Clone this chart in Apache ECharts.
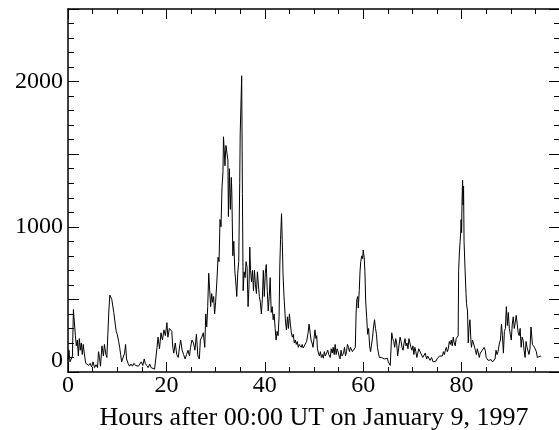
<!DOCTYPE html>
<html>
<head>
<meta charset="utf-8">
<script src="https://cdn.jsdelivr.net/npm/echarts@6/dist/echarts.min.js"></script>
<style>
html,body{margin:0;padding:0;background:#fff;}
#chart{width:559px;height:430px;}
</style>
</head>
<body>
<div id="chart"></div>
<script>
// Hours after 00:00 UT on January 9, 1997
const hours = [
0.0,0.2,0.4,0.7,0.9,1.1,1.3,1.5,1.7,1.9,2.1,2.3,2.5,2.7,2.9,3.1,3.3,3.6,3.9,4.2,4.5,4.8,5.1,5.4,5.7,6.0,6.2,6.4,6.6,6.9,7.2,7.4,7.7,7.9,
8.1,8.3,8.5,8.7,8.9,9.1,9.3,9.6,9.8,10.0,10.3,10.5,10.7,10.9,11.1,11.3,11.5,11.7,11.9,12.2,12.5,12.8,13.1,13.4,13.7,14.0,14.3,14.6,14.9,
15.2,15.5,15.7,16.0,16.3,16.6,16.9,17.2,17.6,17.9,18.1,18.3,18.6,18.9,19.2,19.5,19.8,20.1,20.3,20.6,20.8,21.1,21.3,21.5,21.8,22.1,22.4,
22.7,22.9,23.2,23.5,23.8,24.1,24.4,24.7,24.9,25.2,25.5,25.8,26.1,26.4,26.7,26.9,27.2,27.5,27.8,28.0,28.2,28.4,28.6,28.8,29.0,29.2,29.4,
29.6,29.8,30.0,30.25,30.5,30.7,30.9,31.1,31.3,31.5,31.6,31.8,31.9,32.1,32.3,32.5,32.6,32.8,33.0,33.2,33.3,33.5,33.7,33.9,34.1,34.3,34.5,
34.7,34.9,35.0,35.2,35.3,35.45,35.6,35.8,36.0,36.2,36.4,36.6,36.8,36.95,37.1,37.3,37.5,37.7,37.9,38.1,38.3,38.5,38.7,38.9,39.1,39.3,39.5,
39.7,39.9,40.1,40.3,40.5,40.7,40.9,41.1,41.3,41.5,41.7,41.9,42.1,42.3,42.5,42.7,42.9,43.05,43.2,43.4,43.55,43.7,43.9,44.05,44.2,44.4,44.6,
44.8,45.0,45.2,45.4,45.6,45.8,46.0,46.2,46.4,46.6,46.8,47.0,47.2,47.4,47.6,47.8,48.0,48.2,48.5,48.8,49.0,49.2,49.4,49.6,49.8,50.0,50.2,
50.4,50.55,50.7,50.9,51.1,51.3,51.5,51.7,51.9,52.1,52.3,52.6,52.8,53.0,53.3,53.5,53.7,53.9,54.1,54.3,54.5,54.7,54.9,55.1,55.3,55.5,55.7,
56.0,56.2,56.4,56.6,56.8,57.0,57.2,57.4,57.6,57.8,58.0,58.2,58.4,58.55,58.7,58.9,59.0,59.2,59.35,59.5,59.7,59.9,60.0,60.2,60.35,60.5,60.7,
60.9,61.1,61.3,61.5,61.7,61.9,62.1,62.3,62.5,62.7,62.9,63.1,63.3,63.5,63.75,64.0,64.3,64.6,64.9,65.1,65.3,65.5,65.8,66.0,66.2,66.4,66.6,
66.8,67.0,67.2,67.5,67.7,67.9,68.1,68.3,68.5,68.7,68.9,69.1,69.3,69.5,69.7,69.9,70.1,70.3,70.5,70.7,70.9,71.1,71.3,71.5,71.7,71.9,72.1,
72.3,72.6,72.9,73.1,73.4,73.6,73.9,74.2,74.5,74.8,75.0,75.3,75.5,75.7,75.9,76.1,76.3,76.5,76.7,76.9,77.1,77.3,77.5,77.7,77.9,78.1,78.3,
78.5,78.7,78.9,79.1,79.3,79.4,79.55,79.7,79.8,79.9,80.0,80.1,80.2,80.3,80.4,80.5,80.7,80.9,81.0,81.2,81.35,81.5,81.7,81.9,82.0,82.2,82.4,
82.6,82.8,83.0,83.2,83.4,83.6,83.8,84.0,84.2,84.4,84.6,84.8,85.0,85.2,85.4,85.6,85.8,86.0,86.3,86.5,86.8,87.0,87.2,87.4,87.7,87.9,88.1,
88.3,88.5,88.7,88.9,89.1,89.3,89.5,89.7,89.9,90.1,90.3,90.5,90.7,90.9,91.1,91.3,91.5,91.7,91.9,92.1,92.3,92.5,92.7,92.9,93.1,93.3,93.5,
93.7,93.9,94.1,94.2,94.4,94.6,94.8,95.0,95.2,95.4,95.6,95.8,96.0,96.2
];
const values = [
80,150,70,60,110,430,420,250,180,220,110,230,150,200,120,190,130,60,70,45,60,35,70,30,50,30,140,100,40,180,110,190,120,100,
260,420,530,520,500,490,410,330,280,260,210,170,120,70,60,110,130,190,90,60,40,55,40,60,45,55,40,50,70,
45,90,60,45,30,55,30,25,20,30,170,240,160,270,220,290,250,340,240,300,310,280,170,130,200,120,100,
180,220,150,120,90,120,150,110,170,220,200,150,260,110,90,220,240,270,170,400,310,450,680,560,450,540,480,
520,400,480,620,790,760,1050,1000,1270,1380,1620,1500,1420,1560,1550,1460,1070,1400,1120,1340,1230,800,900,700,620,520,680,
760,1300,1640,1650,2040,1230,560,690,650,760,720,450,600,860,700,620,700,560,700,600,540,690,600,520,480,400,500,
700,520,680,740,560,420,520,650,410,450,360,400,300,220,280,250,380,730,910,1090,900,680,520,440,350,290,380,
300,400,330,270,240,260,200,220,190,210,170,190,180,170,190,165,160,175,210,270,330,320,220,200,170,230,290,
230,250,160,130,110,140,100,120,95,140,110,100,150,120,100,160,130,170,120,190,120,160,140,110,90,150,110,
130,170,110,140,190,170,140,170,180,140,150,140,170,400,500,520,440,560,690,760,800,780,840,790,690,490,380,
260,300,180,140,130,240,310,360,300,260,170,130,100,110,100,110,90,80,95,70,60,45,270,230,210,170,230,
200,110,100,240,210,170,150,200,230,180,200,160,230,200,170,150,180,120,170,140,100,130,160,170,130,140,100,
110,130,90,110,100,80,100,70,60,75,90,80,110,100,120,110,140,120,150,170,140,160,210,190,220,180,240,
200,180,230,220,250,700,820,900,950,1050,960,1200,1320,1150,1280,900,710,540,470,420,200,300,360,210,170,220,200,
190,150,120,160,150,100,130,120,150,140,170,150,100,110,80,90,75,85,70,80,90,150,120,140,200,220,330,
250,130,280,300,450,320,410,300,260,220,330,380,300,340,390,330,270,250,300,170,240,220,150,100,210,170,160,
120,160,310,320,190,200,170,160,140,100,90,100,110,105
];
const xTicks = [0, 20, 40, 60, 80];
const yLabelValues = [0, 1000, 2000];
const xTitle = 'Hours after 00:00 UT on January 9, 1997';

const FONT = '"Liberation Serif", "Times New Roman", serif';
const chart = echarts.init(document.getElementById('chart'), null, {renderer: 'canvas'});
const axisLineStyle = {color: '#000', width: 1.5};
const commonX = {
  type: 'value', min: 0, max: 100, interval: 20,
  axisLine: {show: true, onZero: false, lineStyle: axisLineStyle},
  axisTick: {show: true, inside: true, length: 10, lineStyle: {color: '#000', width: 1}},
  minorTick: {show: true, splitNumber: 4, length: 5, lineStyle: {color: '#000', width: 1}},
  splitLine: {show: false}, minorSplitLine: {show: false}
};
const commonY = {
  type: 'value', min: 0, max: 2500, interval: 500,
  axisLine: {show: true, onZero: false, lineStyle: axisLineStyle},
  axisTick: {show: true, inside: true, length: 11, lineStyle: {color: '#000', width: 1}},
  minorTick: {show: true, splitNumber: 5, length: 6, lineStyle: {color: '#000', width: 1}},
  splitLine: {show: false}, minorSplitLine: {show: false}
};
chart.setOption({
  animation: false,
  backgroundColor: '#fff',
  grid: {left: 68, top: 9, width: 492, height: 363, containLabel: false, outerBoundsMode: 'none'},
  xAxis: [
    Object.assign({}, commonX, {
      position: 'bottom',
      axisLabel: {
        show: true, color: '#000', fontFamily: FONT, fontSize: 24, margin: 2,
        formatter: v => xTicks.indexOf(v) >= 0 ? String(v) : ''
      },
      name: xTitle, nameLocation: 'middle', nameGap: 33,
      nameTextStyle: {color: '#000', fontFamily: FONT, fontSize: 26}
    }),
    Object.assign({}, commonX, {position: 'top', axisLabel: {show: false}})
  ],
  yAxis: [
    Object.assign({}, commonY, {
      position: 'left',
      axisLabel: {
        show: true, color: '#000', fontFamily: FONT, fontSize: 24, margin: 5,
        formatter: v => yLabelValues.indexOf(v) < 0 ? '' : (v === 0 ? '{z|0}' : String(v)),
        rich: {z: {fontFamily: FONT, fontSize: 24, color: '#000', padding: [0, 0, 22, 0]}}
      }
    }),
    Object.assign({}, commonY, {position: 'right', axisLabel: {show: false}})
  ],
  series: [{
    type: 'line',
    xAxisIndex: 0, yAxisIndex: 0,
    data: hours.map((h, i) => [h, values[i]]),
    showSymbol: false,
    symbol: 'none',
    lineStyle: {color: '#000', width: 1},
    itemStyle: {color: '#000'}
  }]
});
</script>
</body>
</html>
